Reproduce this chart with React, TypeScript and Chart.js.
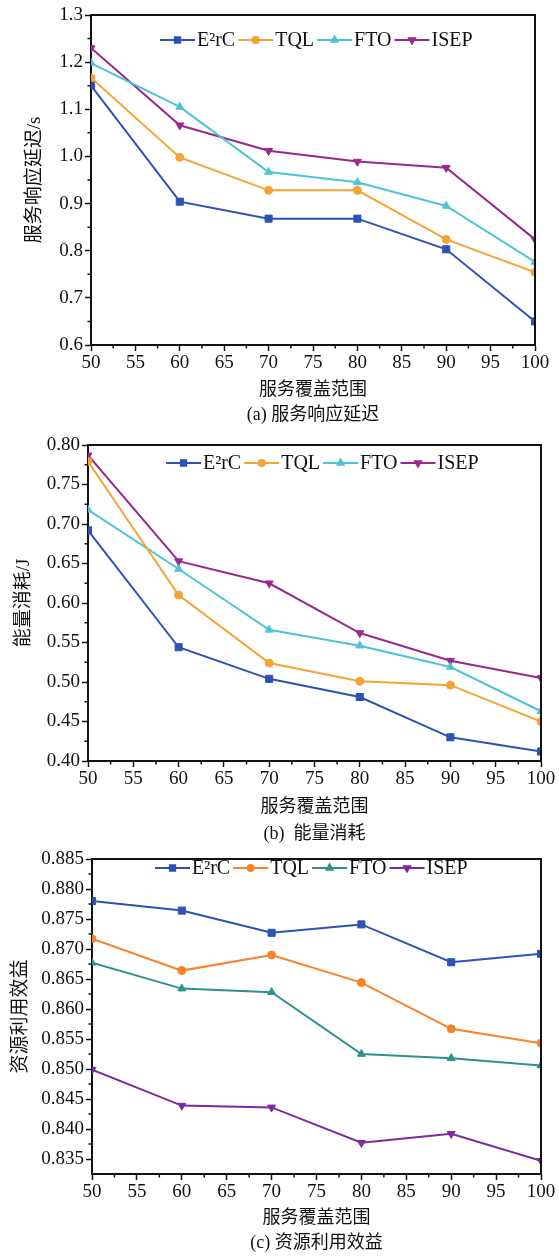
import React, { useEffect, useRef } from 'react';
import { Chart, registerables } from 'chart.js';
import { drawPoint } from 'chart.js/helpers';

Chart.register(...registerables);

// ---------- data ----------
const coverage = [50, 60, 70, 80, 90, 100];
const seriesNames = ['E²rC', 'TQL', 'FTO', 'ISEP'];

const delayE2rC = [1.15, 0.904, 0.868, 0.868, 0.803, 0.65];
const delayTQL = [1.167, 0.998, 0.928, 0.928, 0.824, 0.754];
const delayFTO = [1.198, 1.105, 0.967, 0.945, 0.895, 0.776];
const delayISEP = [1.23, 1.066, 1.012, 0.989, 0.976, 0.824];

const energyE2rC = [0.692, 0.544, 0.504, 0.481, 0.43, 0.412];
const energyTQL = [0.779, 0.61, 0.524, 0.501, 0.496, 0.45];
const energyFTO = [0.718, 0.643, 0.566, 0.546, 0.519, 0.463];
const energyISEP = [0.787, 0.653, 0.625, 0.562, 0.527, 0.505];

const benefitE2rC = [0.878, 0.8764, 0.8727, 0.8741, 0.8678, 0.8692];
const benefitTQL = [0.8717, 0.8664, 0.869, 0.8644, 0.8567, 0.8543];
const benefitFTO = [0.8677, 0.8634, 0.8628, 0.8525, 0.8518, 0.8506];
const benefitISEP = [0.8499, 0.8439, 0.8436, 0.8377, 0.8392, 0.8347];

const xTicks = [50, 55, 60, 65, 70, 75, 80, 85, 90, 95, 100];
const xMinorTicks = [52.5, 57.5, 62.5, 67.5, 72.5, 77.5, 82.5, 87.5, 92.5, 97.5];
const delayTicks = [0.6, 0.7, 0.8, 0.9, 1.0, 1.1, 1.2, 1.3];
const delayMinorTicks = [0.65, 0.75, 0.85, 0.95, 1.05, 1.15, 1.25];
const energyTicks = [0.4, 0.45, 0.5, 0.55, 0.6, 0.65, 0.7, 0.75, 0.8];
const energyMinorTicks = [0.425, 0.475, 0.525, 0.575, 0.625, 0.675, 0.725, 0.775];
const benefitTicks = [0.835, 0.84, 0.845, 0.85, 0.855, 0.86, 0.865, 0.87, 0.875, 0.88, 0.885];
const benefitMinorTicks = [0.8375, 0.8425, 0.8475, 0.8525, 0.8575, 0.8625, 0.8675, 0.8725, 0.8775, 0.8825];

const xTitle = '服务覆盖范围';

// ---------- styling ----------
const FONT = "'Liberation Serif', 'Noto Sans CJK SC', serif";
const INK = '#111111';
const pointStyles = ['rect', 'circle', 'triangle', 'triangle'];
const pointRotations = [0, 0, 0, 180];
const pointRadii = [5, 4, 4.6, 4.6];

type PanelProps = {
  top: number;
  height: number;
  series: number[][];
  colors: string[];
  yTicks: number[];
  yMinor: number[];
  yMin: number;
  yMax: number;
  decimals: number;
  yTitle: string;
  caption: string;
  padTop: number;
  padRight: number;
  yWidth: number;
  xHeight: number;
  yTitlePad: number;
  xTitleLine: number;
  legendX: number;
  legendY: number;
};

function Panel(p: PanelProps) {
  const ref = useRef<HTMLCanvasElement | null>(null);

  useEffect(() => {
    if (!ref.current) return;

    const decor = {
      id: 'decor',
      afterDraw(chart: any) {
        const { ctx, chartArea: a, scales } = chart;
        ctx.save();
        // frame (top + right)
        ctx.strokeStyle = INK;
        ctx.lineWidth = 2;
        ctx.beginPath();
        ctx.moveTo(a.left, a.top);
        ctx.lineTo(a.right, a.top);
        ctx.lineTo(a.right, a.bottom);
        ctx.stroke();
        // minor ticks
        ctx.lineWidth = 1.5;
        ctx.beginPath();
        xMinorTicks.forEach((v) => {
          const x = scales.x.getPixelForValue(v);
          ctx.moveTo(x, a.bottom);
          ctx.lineTo(x, a.bottom + 3.5);
        });
        p.yMinor.forEach((v) => {
          const y = scales.y.getPixelForValue(v);
          ctx.moveTo(a.left, y);
          ctx.lineTo(a.left - 3.5, y);
        });
        ctx.stroke();
        // legend
        ctx.font = `20px ${FONT}`;
        ctx.textBaseline = 'middle';
        ctx.textAlign = 'left';
        let x = p.legendX;
        const y = p.legendY;
        chart.data.datasets.forEach((ds: any, i: number) => {
          ctx.strokeStyle = ds.borderColor;
          ctx.lineWidth = 2;
          ctx.beginPath();
          ctx.moveTo(x, y);
          ctx.lineTo(x + 35, y);
          ctx.stroke();
          ctx.fillStyle = ds.borderColor;
          ctx.strokeStyle = ds.borderColor;
          drawPoint(
            ctx,
            { pointStyle: pointStyles[i], radius: pointRadii[i] * 0.75, rotation: pointRotations[i], borderWidth: 1 },
            x + 17.5,
            y
          );
          ctx.fillStyle = INK;
          ctx.fillText(ds.label, x + 37, y + 1);
          x += 37 + ctx.measureText(ds.label).width + 3;
        });
        ctx.restore();
      },
    };

    const chart = new Chart(ref.current, {
      type: 'line',
      data: {
        datasets: p.series.map((vals, i) => ({
          label: seriesNames[i],
          data: coverage.map((c, j) => ({ x: c, y: vals[j] })),
          borderColor: p.colors[i],
          backgroundColor: p.colors[i],
          pointBackgroundColor: p.colors[i],
          pointBorderColor: p.colors[i],
          borderWidth: 2,
          pointStyle: pointStyles[i] as any,
          rotation: pointRotations[i],
          pointRadius: pointRadii[i],
          pointBorderWidth: 1,
          tension: 0,
        })),
      },
      options: {
        responsive: false,
        animation: false,
        events: [],
        layout: { padding: { top: p.padTop, right: p.padRight, left: 0, bottom: 0 } },
        plugins: { legend: { display: false }, tooltip: { enabled: false } },
        scales: {
          x: {
            type: 'linear',
            min: 50,
            max: 100,
            afterBuildTicks: (s: any) => {
              s.ticks = xTicks.map((v) => ({ value: v }));
            },
            afterFit: (s: any) => {
              s.height = p.xHeight;
            },
            grid: { drawOnChartArea: false, drawTicks: true, tickLength: 6, tickColor: INK, tickWidth: 1.5 },
            border: { display: true, color: INK, width: 2 },
            ticks: {
              color: INK,
              font: { family: FONT, size: 19 },
              padding: 1,
              maxRotation: 0,
              autoSkip: false,
              callback: (v: any) => String(v),
            },
            title: {
              display: true,
              text: [xTitle, p.caption],
              color: INK,
              font: { family: FONT, size: 18, lineHeight: p.xTitleLine / 18 },
              padding: { top: 0, bottom: 0 },
            },
          },
          y: {
            type: 'linear',
            min: p.yMin,
            max: p.yMax,
            afterBuildTicks: (s: any) => {
              s.ticks = p.yTicks.map((v) => ({ value: v }));
            },
            afterFit: (s: any) => {
              s.width = p.yWidth;
            },
            grid: { drawOnChartArea: false, drawTicks: true, tickLength: 6, tickColor: INK, tickWidth: 1.5 },
            border: { display: true, color: INK, width: 2 },
            ticks: {
              color: INK,
              font: { family: FONT, size: 19 },
              padding: 2,
              autoSkip: false,
              callback: (v: any) => Number(v).toFixed(p.decimals),
            },
            title: {
              display: true,
              text: p.yTitle,
              color: INK,
              font: { family: FONT, size: 19, lineHeight: 1.2 },
              padding: { top: p.yTitlePad, bottom: 0 },
            },
          },
        },
      },
      plugins: [decor],
    } as any);

    return () => chart.destroy();
  }, []);

  return (
    <canvas
      ref={ref}
      width={559}
      height={p.height}
      style={{ position: 'absolute', left: 0, top: p.top, width: 559, height: p.height, display: 'block' }}
    />
  );
}

export default function App() {
  return (
    <div style={{ position: 'absolute', left: 0, top: 0, width: 559, height: 1256, background: '#fff', overflow: 'hidden' }}>
      <Panel
        top={0}
        height={428}
        series={[delayE2rC, delayTQL, delayFTO, delayISEP]}
        colors={['#2c52b8', '#f6a336', '#4ec3d8', '#98288f']}
        yTicks={delayTicks}
        yMinor={delayMinorTicks}
        yMin={0.6}
        yMax={1.3}
        decimals={1}
        yTitle="服务响应延迟/s"
        caption="(a) 服务响应延迟"
        padTop={15}
        padRight={24}
        yWidth={91}
        xHeight={83}
        yTitlePad={24}
        xTitleLine={25}
        legendX={160}
        legendY={40}
      />
      <Panel
        top={425}
        height={423}
        series={[energyE2rC, energyTQL, energyFTO, energyISEP]}
        colors={['#2c52b8', '#f6a336', '#4ec3d8', '#98288f']}
        yTicks={energyTicks}
        yMinor={energyMinorTicks}
        yMin={0.4}
        yMax={0.8}
        decimals={2}
        yTitle="能量消耗/J"
        caption="(b)  能量消耗"
        padTop={20}
        padRight={18}
        yWidth={88}
        xHeight={87}
        yTitlePad={13}
        xTitleLine={27}
        legendX={166}
        legendY={38}
      />
      <Panel
        top={840}
        height={416}
        series={[benefitE2rC, benefitTQL, benefitFTO, benefitISEP]}
        colors={['#2c52b8', '#f7822a', '#2f918f', '#7a2a9e']}
        yTicks={benefitTicks}
        yMinor={benefitMinorTicks}
        yMin={0.8325}
        yMax={0.885}
        decimals={3}
        yTitle="资源利用效益"
        caption="(c) 资源利用效益"
        padTop={19}
        padRight={18}
        yWidth={92}
        xHeight={82}
        yTitlePad={10}
        xTitleLine={25}
        legendX={155}
        legendY={28}
      />
    </div>
  );
}
